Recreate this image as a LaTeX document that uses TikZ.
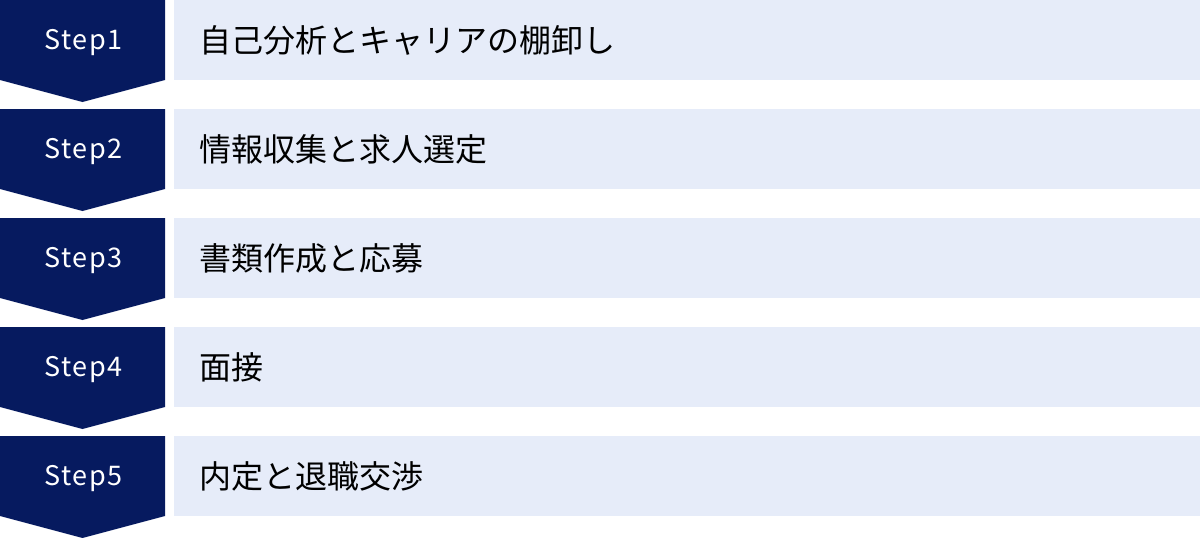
\documentclass[tikz,border=0pt]{standalone}
\usepackage{fontspec}
\newfontfamily\jpfont{Noto Sans CJK JP}
\newfontfamily\stepfont[LetterSpace=6]{Noto Sans CJK JP}
\definecolor{navy}{HTML}{061A5F}
\definecolor{pale}{HTML}{E6ECF9}
\begin{document}
\begin{tikzpicture}
    [x=1pt,y=-1pt,
     chevron/.style={fill=navy},
     steplabel/.style={text=white,font=\stepfont\fontsize{27}{27}\selectfont},
     taskbox/.style={fill=pale,anchor=north west,minimum height=80pt,
       text width=978pt,inner xsep=25pt,align=left,text=black,
       font=\jpfont\fontsize{32}{32}\selectfont}]
    \useasboundingbox (0,0) rectangle (1200,538);
    \fill [chevron] (0,0) -- (165,0) -- (165,80) -- (82.5,102) -- (0,80) -- cycle;
    \node [steplabel] (S1) at (83.5,43) {Step1};
    \node [taskbox] (T1) at (174,0) {自己分析とキャリアの棚卸し};
    \fill [chevron] (0,109) -- (165,109) -- (165,189) -- (82.5,211) -- (0,189) -- cycle;
    \node [steplabel] (S2) at (83.5,152) {Step2};
    \node [taskbox] (T2) at (174,109) {情報収集と求人選定};
    \fill [chevron] (0,218) -- (165,218) -- (165,298) -- (82.5,320) -- (0,298) -- cycle;
    \node [steplabel] (S3) at (83.5,261) {Step3};
    \node [taskbox] (T3) at (174,218) {書類作成と応募};
    \fill [chevron] (0,327) -- (165,327) -- (165,407) -- (82.5,429) -- (0,407) -- cycle;
    \node [steplabel] (S4) at (83.5,370) {Step4};
    \node [taskbox] (T4) at (174,327) {面接};
    \fill [chevron] (0,436) -- (165,436) -- (165,516) -- (82.5,538) -- (0,516) -- cycle;
    \node [steplabel] (S5) at (83.5,479) {Step5};
    \node [taskbox] (T5) at (174,436) {内定と退職交渉};
  \end{tikzpicture}
\end{document}
